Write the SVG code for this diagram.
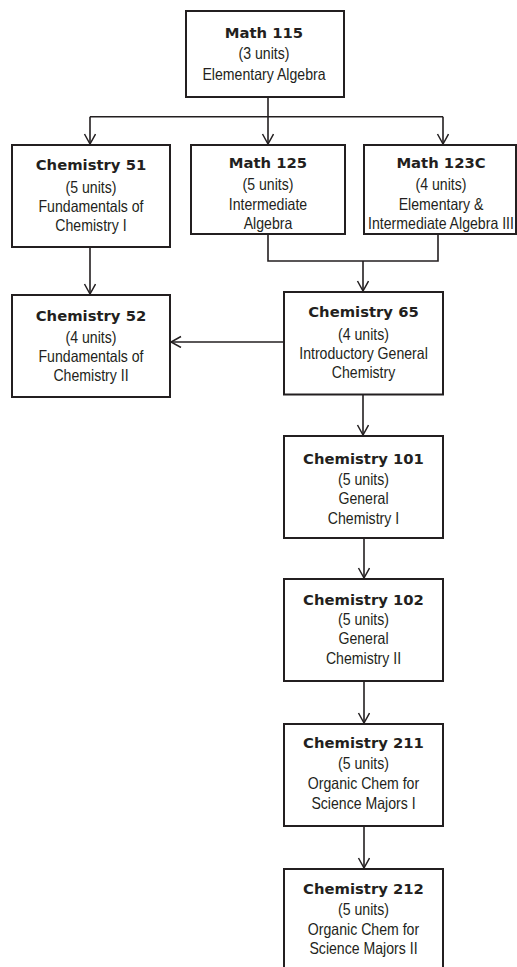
<svg xmlns="http://www.w3.org/2000/svg" width="517" height="967" viewBox="0 0 517 967">
<defs>
<marker id="arr" markerUnits="userSpaceOnUse" markerWidth="14" markerHeight="14" refX="11" refY="6" orient="auto">
<path d="M1,0.5 L11,6 L1,11.5" fill="none" stroke="#231f20" stroke-width="1.5"/>
</marker>
<style>
rect{fill:#fff;stroke:#231f20;stroke-width:2}
.c{fill:none;stroke:#231f20;stroke-width:1.6}
text{text-anchor:middle;fill:#231f20}
.t{font-family:"DejaVu Sans",sans-serif;font-weight:bold;font-size:14.8px}
.n{font-family:"Liberation Sans",Arial,sans-serif;font-size:16.5px}
</style>
</defs>
<rect x="0" y="0" width="517" height="967" style="fill:#fff;stroke:none"/>
<g id="connectors">
<path class="c" d="M268,97 V116.7 M90,116.7 H443"/>
<path class="c" d="M90,116.7 V144" marker-end="url(#arr)"/>
<path class="c" d="M268,116.7 V144" marker-end="url(#arr)"/>
<path class="c" d="M443,116.7 V144" marker-end="url(#arr)"/>
<path class="c" d="M268,234 V261 H438 V234"/>
<path class="c" d="M363,261 V291" marker-end="url(#arr)"/>
<path class="c" d="M90,247 V294" marker-end="url(#arr)"/>
<path class="c" d="M284,342 H171" marker-end="url(#arr)"/>
<path class="c" d="M363,394.7 V435" marker-end="url(#arr)"/>
<path class="c" d="M364,538 V578" marker-end="url(#arr)"/>
<path class="c" d="M364,681 V723" marker-end="url(#arr)"/>
<path class="c" d="M364,826 V868" marker-end="url(#arr)"/>
</g>
<g id="math115">
<rect x="186" y="11" width="158" height="86"/>
<text class="t" x="264" y="37.5">Math 115</text>
<text class="n" transform="translate(264,59) scale(0.855,1)">(3 units)</text>
<text class="n" transform="translate(264,79.5) scale(0.855,1)">Elementary Algebra</text>
</g>
<g id="chem51">
<rect x="12" y="145" width="158" height="102"/>
<text class="t" x="91" y="170">Chemistry 51</text>
<text class="n" transform="translate(91,192.5) scale(0.855,1)">(5 units)</text>
<text class="n" transform="translate(91,211.5) scale(0.855,1)">Fundamentals of</text>
<text class="n" transform="translate(91,231) scale(0.855,1)">Chemistry I</text>
</g>
<g id="math125">
<rect x="191" y="145" width="154" height="89"/>
<text class="t" x="268" y="168">Math 125</text>
<text class="n" transform="translate(268,190) scale(0.855,1)">(5 units)</text>
<text class="n" transform="translate(268,210) scale(0.855,1)">Intermediate</text>
<text class="n" transform="translate(268,229) scale(0.855,1)">Algebra</text>
</g>
<g id="math123c">
<rect x="364" y="145" width="152" height="89"/>
<text class="t" x="441" y="168">Math 123C</text>
<text class="n" transform="translate(441,190) scale(0.855,1)">(4 units)</text>
<text class="n" transform="translate(441,210) scale(0.855,1)">Elementary &amp;</text>
<text class="n" transform="translate(441,229) scale(0.855,1)">Intermediate Algebra III</text>
</g>
<g id="chem52">
<rect x="12" y="295" width="158" height="102"/>
<text class="t" x="91" y="320.7">Chemistry 52</text>
<text class="n" transform="translate(91,342.7) scale(0.855,1)">(4 units)</text>
<text class="n" transform="translate(91,362.3) scale(0.855,1)">Fundamentals of</text>
<text class="n" transform="translate(91,380.7) scale(0.855,1)">Chemistry II</text>
</g>
<g id="chem65">
<rect x="284" y="292" width="159" height="102.5"/>
<text class="t" x="363.5" y="317.3">Chemistry 65</text>
<text class="n" transform="translate(363.5,340) scale(0.855,1)">(4 units)</text>
<text class="n" transform="translate(363.5,359.3) scale(0.855,1)">Introductory General</text>
<text class="n" transform="translate(363.5,378.3) scale(0.855,1)">Chemistry</text>
</g>
<g id="chem101">
<rect x="284" y="436" width="159" height="102"/>
<text class="t" x="363.5" y="464.3">Chemistry 101</text>
<text class="n" transform="translate(363.5,485) scale(0.855,1)">(5 units)</text>
<text class="n" transform="translate(363.5,504) scale(0.855,1)">General</text>
<text class="n" transform="translate(363.5,524.3) scale(0.855,1)">Chemistry I</text>
</g>
<g id="chem102">
<rect x="284" y="579" width="159" height="102"/>
<text class="t" x="363.5" y="605">Chemistry 102</text>
<text class="n" transform="translate(363.5,624.5) scale(0.855,1)">(5 units)</text>
<text class="n" transform="translate(363.5,644.3) scale(0.855,1)">General</text>
<text class="n" transform="translate(363.5,664.3) scale(0.855,1)">Chemistry II</text>
</g>
<g id="chem211">
<rect x="284" y="724" width="159" height="102"/>
<text class="t" x="363.5" y="748.3">Chemistry 211</text>
<text class="n" transform="translate(363.5,769) scale(0.855,1)">(5 units)</text>
<text class="n" transform="translate(363.5,789) scale(0.855,1)">Organic Chem for</text>
<text class="n" transform="translate(363.5,809) scale(0.855,1)">Science Majors I</text>
</g>
<g id="chem212">
<rect x="284" y="869" width="159" height="102"/>
<text class="t" x="363.5" y="894.3">Chemistry 212</text>
<text class="n" transform="translate(363.5,915) scale(0.855,1)">(5 units)</text>
<text class="n" transform="translate(363.5,935) scale(0.855,1)">Organic Chem for</text>
<text class="n" transform="translate(363.5,954.3) scale(0.855,1)">Science Majors II</text>
</g>
</svg>
